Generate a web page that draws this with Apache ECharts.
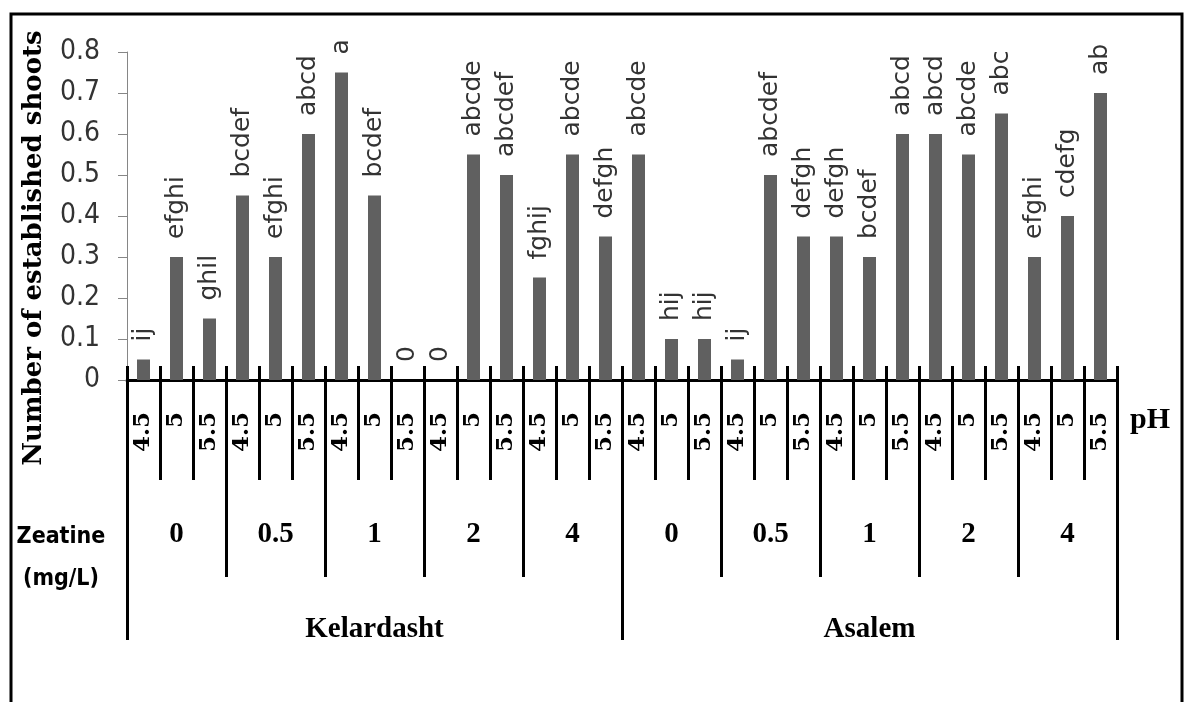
<!DOCTYPE html>
<html>
<head>
<meta charset="utf-8">
<script src="https://cdn.jsdelivr.net/npm/echarts@6/dist/echarts.min.js"></script>
<style>
html,body{margin:0;padding:0;background:#fff;}
#chart{width:1184px;height:702px;}
</style>
</head>
<body>
<div id="chart"></div>
<script>
const phLabels = ['4.5','5','5.5','4.5','5','5.5','4.5','5','5.5','4.5','5','5.5','4.5','5','5.5',
                  '4.5','5','5.5','4.5','5','5.5','4.5','5','5.5','4.5','5','5.5','4.5','5','5.5'];
const zeatineLevels = ['0','0.5','1','2','4','0','0.5','1','2','4'];
const locations = ['Kelardasht','Asalem'];
const shoots = [0.05,0.3,0.15, 0.45,0.3,0.6, 0.75,0.45,0, 0,0.55,0.5, 0.25,0.55,0.35,
                0.55,0.1,0.1, 0.05,0.5,0.35, 0.35,0.3,0.6, 0.6,0.55,0.65, 0.3,0.4,0.7];
const letters = ['ij','efghi','ghil','bcdef','efghi','abcd','a','bcdef','0','0','abcde','abcdef','fghij','abcde','defgh',
                 'abcde','hij','hij','ij','abcdef','defgh','defgh','bcdef','abcd','abcd','abcde','abc','efghi','cdefg','ab'];
const yMin = 0, yMax = 0.8, yStep = 0.1;

const chart = echarts.init(document.getElementById('chart'), null, {renderer:'canvas'});
const blackTick = {color:'#000', width:3};
chart.setOption({
  animation:false,
  backgroundColor:'#fff',
  grid:{left:127, right:67, top:52, bottom:322, containLabel:false},
  xAxis:[
    {type:'category', data:phLabels, position:'bottom',
     axisLine:{show:true, lineStyle:{color:'#000', width:3}},
     axisTick:{show:true, interval:0, length:100, lineStyle:blackTick},
     axisLabel:{interval:0, rotate:90, margin:32, fontFamily:'DejaVu Serif', fontWeight:'bold', fontSize:23, color:'#000'}},
    {type:'category', data:phLabels, position:'bottom',
     axisLine:{show:false},
     axisTick:{show:true, inside:true, interval:0, length:14, lineStyle:blackTick},
     axisLabel:{show:false}},
    {type:'category', data:zeatineLevels, position:'bottom',
     axisLine:{show:false},
     axisTick:{show:true, interval:0, length:197, lineStyle:blackTick},
     axisLabel:{interval:0, margin:140, fontFamily:'Liberation Serif', fontWeight:'bold', fontSize:29, color:'#000'}},
    {type:'category', data:locations, position:'bottom',
     axisLine:{show:false},
     axisTick:{show:true, interval:0, length:260, lineStyle:blackTick},
     axisLabel:{interval:0, margin:235, fontFamily:'Liberation Serif', fontWeight:'bold', fontSize:29, color:'#000'}}
  ],
  yAxis:{type:'value', min:yMin, max:yMax, interval:yStep,
    axisLine:{show:true, lineStyle:{color:'#868686', width:1}},
    axisTick:{show:true, length:9, lineStyle:{color:'#868686'}},
    splitLine:{show:false},
    axisLabel:{margin:27, fontFamily:'Liberation Sans Narrow, DejaVu Sans Condensed, sans-serif', fontSize:28, color:'#333',
      formatter:v => v === 0 ? '0' : v.toFixed(1)}},
  series:[{
    type:'bar', xAxisIndex:0, data:shoots, barWidth:13,
    itemStyle:{color:'#606060'},
    label:{show:true, position:'top', distance:18, rotate:90, align:'left', verticalAlign:'middle',
      fontFamily:'DejaVu Sans', fontSize:25, color:'#333',
      formatter:p => letters[p.dataIndex]}
  }],
  graphic:[
    {type:'rect', shape:{x:11, y:14, width:1171, height:700}, style:{fill:'none', stroke:'#000', lineWidth:3}, silent:true},
    {type:'text', x:34, y:248, rotation:Math.PI/2,
     style:{text:'Number of established shoots', font:'bold 26px "DejaVu Serif"', fill:'#000', align:'center', verticalAlign:'middle'}},
    {type:'text', x:1150, y:420,
     style:{text:'pH', font:'bold 30px "Liberation Serif"', fill:'#000', align:'center', verticalAlign:'middle'}},
    {type:'text', x:61, y:558,
     style:{text:'Zeatine\n(mg/L)', font:'bold 23px "Liberation Sans Narrow", "DejaVu Sans Condensed", "Liberation Sans", sans-serif', lineHeight:42, fill:'#000', align:'center', verticalAlign:'middle'}}
  ]
});
</script>
</body>
</html>
